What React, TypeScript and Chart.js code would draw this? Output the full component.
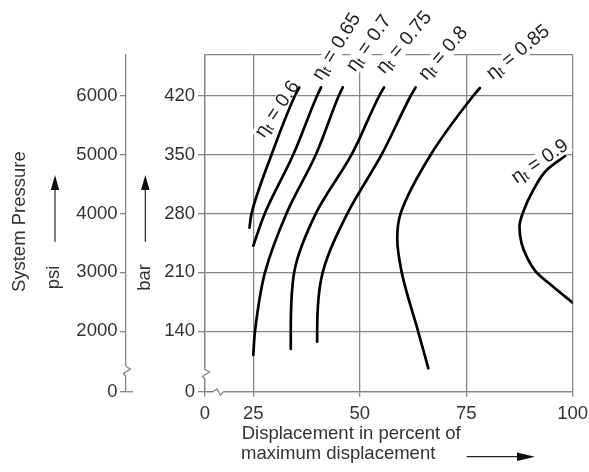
import React, { useEffect, useRef } from 'react';
import { Chart, registerables } from 'chart.js';

Chart.register(...registerables);

// ---------- data ----------
const xTickValues = [0, 25, 50, 75, 100];
const barTickValues = [0, 140, 210, 280, 350, 420];
const psiTickValues = [0, 2000, 3000, 4000, 5000, 6000];
const efficiencies = ['0.6', '0.65', '0.7', '0.75', '0.8', '0.85', '0.9'];

// [displacement %, pressure bar], ordered by rising pressure
const eta060 = [[24.1, 263], [24.6, 280], [29.3, 350], [34.8, 420], [35.8, 429.7]];
const eta065 = [[25.0, 241.7], [27.7, 280], [34.4, 350], [40.0, 420], [40.9, 429.7]];
const eta070 = [[25.0, 111.9], [25.4, 140], [27.75, 210], [32.8, 280], [39.7, 350], [45.1, 420], [46.0, 429.7]];
const eta075 = [[33.8, 119], [33.8, 140], [34.6, 210], [39.7, 280], [48.1, 350], [54.6, 420], [55.7, 429.7]];
const eta080 = [[40.0, 127.6], [40.0, 140], [41.3, 210], [47.1, 280], [55.15, 350], [62.0, 420], [63.1, 429.7]];
const eta085 = [[66.1, 96.1], [63.7, 140], [59.85, 210], [58.8, 250.4], [59.6, 280], [66.7, 350], [76.7, 420], [78.2, 428.9]];
const eta090 = [[100.0, 174.0], [95.4, 193.0], [91.5, 210], [89.2, 228.6], [88.0, 244.5], [87.5, 264.2], [88.25, 280], [90.75, 307.8], [93.9, 331.5], [98.2, 348.2]];
const curves = [eta060, eta065, eta070, eta075, eta080, eta085, eta090];

// broken-axis limits ("0" is drawn at the axis start)
const X_MIN = 13.66;
const X_MAX = 100;
const Y_MIN = 68.3;
const Y_MAX = 468.1;
const PSI_PER_BAR = 6000 / 420;

// ---------- styles ----------
const FAMILY = '"Liberation Sans", Arial, Helvetica, sans-serif';
const FS = 18.5;
const LABEL_FS = 19.5;
const AXIS = '#858585';
const TEXT = '#333333';
const AXIS_W = 1.3;

// label placement relative to the upper end of each curve (pixels, degrees)
const labelPlacement = [
  { dx: -21.8, dy: 21.9, angle: -56 },
  { dx: 15.7, dy: -40.6, angle: -58 },
  { dx: 26.3, dy: -44, angle: -55 },
  { dx: 20.2, dy: -44.8, angle: -50 },
  { dx: 27.8, dy: -34, angle: -49 },
  { dx: 38.3, dy: -35.5, angle: -39 },
  { dx: -25, dy: 5.7, angle: -34 },
];

function etaLabel(ctx: CanvasRenderingContext2D, cx: number, cy: number, angle: number, value: string, mode: 'box' | 'text') {
  const main = `${LABEL_FS}px ${FAMILY}`;
  const sub = `${LABEL_FS * 0.68}px ${FAMILY}`;
  ctx.save();
  ctx.translate(cx, cy);
  ctx.rotate((angle * Math.PI) / 180);
  ctx.textBaseline = 'middle';
  ctx.textAlign = 'left';
  ctx.font = main;
  const wEta = ctx.measureText('η').width;
  const rest = ' = ' + value;
  const wRest = ctx.measureText(rest).width;
  ctx.font = sub;
  const wT = ctx.measureText('t').width;
  const w = wEta + wT + wRest;
  const x0 = -w / 2;
  if (mode === 'box') {
    ctx.fillStyle = '#ffffff';
    ctx.fillRect(x0 - 2, -LABEL_FS * 0.45, w + 4, LABEL_FS * 0.9);
  } else {
    ctx.fillStyle = '#222';
    ctx.font = main;
    ctx.fillText('η', x0, 0);
    ctx.font = sub;
    ctx.fillText('t', x0 + wEta, LABEL_FS * 0.22);
    ctx.font = main;
    ctx.fillText(rest, x0 + wEta + wT, 0);
  }
  ctx.restore();
}

function arrowUp(ctx: CanvasRenderingContext2D, x: number, yBottom: number, yTip: number) {
  ctx.save();
  ctx.strokeStyle = '#222';
  ctx.fillStyle = '#111';
  ctx.lineWidth = 1.2;
  ctx.beginPath();
  ctx.moveTo(x, yBottom);
  ctx.lineTo(x, yTip + 10);
  ctx.stroke();
  ctx.beginPath();
  ctx.moveTo(x, yTip);
  ctx.lineTo(x - 4.2, yTip + 15);
  ctx.lineTo(x + 4.2, yTip + 15);
  ctx.closePath();
  ctx.fill();
  ctx.restore();
}

function arrowRight(ctx: CanvasRenderingContext2D, xStart: number, xTip: number, y: number) {
  ctx.save();
  ctx.strokeStyle = '#222';
  ctx.fillStyle = '#111';
  ctx.lineWidth = 1.2;
  ctx.beginPath();
  ctx.moveTo(xStart, y);
  ctx.lineTo(xTip - 10, y);
  ctx.stroke();
  ctx.beginPath();
  ctx.moveTo(xTip, y);
  ctx.lineTo(xTip - 18, y - 4.2);
  ctx.lineTo(xTip - 18, y + 4.2);
  ctx.closePath();
  ctx.fill();
  ctx.restore();
}

function breakV(ctx: CanvasRenderingContext2D, x: number, y0: number, y1: number) {
  ctx.save();
  ctx.fillStyle = '#fff';
  ctx.fillRect(x - 2, y0, 4, y1 - y0);
  ctx.strokeStyle = AXIS;
  ctx.lineWidth = AXIS_W;
  ctx.beginPath();
  ctx.moveTo(x, y0);
  ctx.lineTo(x + 4.5, y0 + 2.5);
  ctx.lineTo(x - 2.5, y0 + 7);
  ctx.lineTo(x, y1);
  ctx.stroke();
  ctx.restore();
}

function breakH(ctx: CanvasRenderingContext2D, y: number, x0: number, x1: number) {
  ctx.save();
  ctx.fillStyle = '#fff';
  ctx.fillRect(x0, y - 2, x1 - x0, 4);
  ctx.strokeStyle = AXIS;
  ctx.lineWidth = AXIS_W;
  ctx.beginPath();
  ctx.moveTo(x0, y);
  ctx.lineTo(x0 + 4, y - 2.8);
  ctx.lineTo(x0 + 7.5, y + 3.5);
  ctx.lineTo(x1, y);
  ctx.stroke();
  ctx.restore();
}

const decorPlugin = {
  id: 'decor',
  beforeDatasetsDraw(chart: any) {
    const ctx = chart.ctx as CanvasRenderingContext2D;
    const xs = chart.scales.x;
    const ys = chart.scales.y;
    curves.forEach((c, i) => {
      const end = c[c.length - 1];
      const p = labelPlacement[i];
      etaLabel(ctx, xs.getPixelForValue(end[0]) + p.dx, ys.getPixelForValue(end[1]) + p.dy, p.angle, efficiencies[i], 'box');
    });
  },
  afterDatasetsDraw(chart: any) {
    const ctx = chart.ctx as CanvasRenderingContext2D;
    const xs = chart.scales.x;
    const ys = chart.scales.y;
    const psi = chart.scales.psi;
    const area = chart.chartArea;
    curves.forEach((c, i) => {
      const end = c[c.length - 1];
      const p = labelPlacement[i];
      etaLabel(ctx, xs.getPixelForValue(end[0]) + p.dx, ys.getPixelForValue(end[1]) + p.dy, p.angle, efficiencies[i], 'text');
    });

    // axis breaks
    const psiX = psi.right;
    breakV(ctx, psiX, 366.5, 377);
    breakV(ctx, area.left, 369.5, 379);
    breakH(ctx, area.bottom, area.left + 8, area.left + 18.5);
    // psi zero tick continues to the right
    ctx.save();
    ctx.strokeStyle = AXIS;
    ctx.lineWidth = AXIS_W;
    ctx.beginPath();
    ctx.moveTo(psiX, area.bottom);
    ctx.lineTo(psiX + 7, area.bottom);
    ctx.stroke();
    ctx.restore();

    // titles
    ctx.save();
    ctx.fillStyle = TEXT;
    ctx.font = `${FS}px ${FAMILY}`;
    ctx.textBaseline = 'middle';
    ctx.textAlign = 'center';
    const vText = (t: string, x: number, y: number) => {
      ctx.save();
      ctx.translate(x, y);
      ctx.rotate(-Math.PI / 2);
      ctx.fillText(t, 0, 0);
      ctx.restore();
    };
    vText('System Pressure', 20, 221.7);
    vText('psi', 54, 277.5);
    vText('bar', 145, 277.5);
    ctx.textAlign = 'left';
    ctx.fillText('Displacement in percent of', 241.7, 433.5);
    ctx.fillText('maximum displacement', 241, 454);
    ctx.restore();

    arrowUp(ctx, 55, 241.7, 175);
    arrowUp(ctx, 145.3, 241.7, 175);
    arrowRight(ctx, 466.7, 535, 456.7);
  },
};

const tickFont = { family: FAMILY, size: FS };

export default function App() {
  const canvasRef = useRef<HTMLCanvasElement | null>(null);

  useEffect(() => {
    const canvas = canvasRef.current;
    if (!canvas) return;
    const chart = new Chart(canvas, {
      type: 'scatter',
      data: {
        datasets: curves.map((pts, i) => ({
          label: 'ηt = ' + efficiencies[i],
          data: pts.map(([x, y]) => ({ x, y })),
          showLine: true,
          indexAxis: 'y',
          cubicInterpolationMode: 'monotone',
          borderColor: '#000',
          borderWidth: 2.7,
          borderCapStyle: 'round',
          pointRadius: 0,
          pointHoverRadius: 0,
          fill: false,
        })),
      },
      options: {
        responsive: false,
        animation: false,
        layout: { padding: { top: 55, right: 16.3, bottom: 0, left: 0 } },
        plugins: {
          legend: { display: false },
          tooltip: { enabled: false },
          title: { display: false },
        },
        scales: {
          x: {
            type: 'linear',
            axis: 'x',
            min: X_MIN,
            max: X_MAX,
            afterBuildTicks: (s: any) => {
              s.ticks = xTickValues.map((v) => ({ value: v === 0 ? X_MIN : v }));
            },
            afterFit: (s: any) => {
              s.height = 80.3;
              s.paddingLeft = 0;
              s.paddingRight = 0;
            },
            ticks: {
              autoSkip: false,
              maxRotation: 0,
              padding: 6.5,
              color: TEXT,
              font: tickFont,
              callback: (v: any) => (v === X_MIN ? '0' : String(v)),
            },
            grid: { color: AXIS, lineWidth: AXIS_W, tickLength: 5, tickColor: AXIS },
            border: { color: AXIS, width: AXIS_W },
          },
          y: {
            type: 'linear',
            axis: 'y',
            position: 'left',
            weight: 0,
            min: Y_MIN,
            max: Y_MAX,
            afterBuildTicks: (s: any) => {
              s.ticks = [...barTickValues.map((v) => ({ value: v === 0 ? Y_MIN : v })), { value: Y_MAX }];
            },
            afterFit: (s: any) => {
              s.width = 79;
              s.paddingTop = 0;
              s.paddingBottom = 0;
            },
            ticks: {
              autoSkip: false,
              padding: 3,
              color: TEXT,
              font: tickFont,
              callback: (v: any) => (v === Y_MIN ? '0' : v === Y_MAX ? '' : String(v)),
            },
            grid: {
              color: AXIS,
              lineWidth: AXIS_W,
              tickLength: 7,
              tickColor: (c: any) => (c.tick && c.tick.value === Y_MAX ? 'rgba(0,0,0,0)' : AXIS),
            },
            border: { color: AXIS, width: AXIS_W },
          },
          psi: {
            type: 'linear',
            axis: 'y',
            position: 'left',
            weight: 1,
            min: Y_MIN * PSI_PER_BAR,
            max: Y_MAX * PSI_PER_BAR,
            afterBuildTicks: (s: any) => {
              s.ticks = psiTickValues.map((v) => ({ value: v === 0 ? Y_MIN * PSI_PER_BAR : v }));
            },
            afterFit: (s: any) => {
              s.width = 126;
              s.paddingTop = 0;
              s.paddingBottom = 0;
            },
            ticks: {
              autoSkip: false,
              padding: 2.5,
              color: TEXT,
              font: tickFont,
              callback: (v: any) => (v === Y_MIN * PSI_PER_BAR ? '0' : String(v)),
            },
            grid: { drawOnChartArea: false, color: AXIS, lineWidth: AXIS_W, tickLength: 6, tickColor: AXIS },
            border: { color: AXIS, width: AXIS_W },
          },
        },
      } as any,
      plugins: [decorPlugin],
    });
    return () => chart.destroy();
  }, []);

  return (
    <div style={{ position: 'absolute', left: 0, top: 0, width: 589, height: 472, background: '#fff' }}>
      <canvas ref={canvasRef} width={589} height={472} style={{ display: 'block', width: 589, height: 472 }} />
    </div>
  );
}
